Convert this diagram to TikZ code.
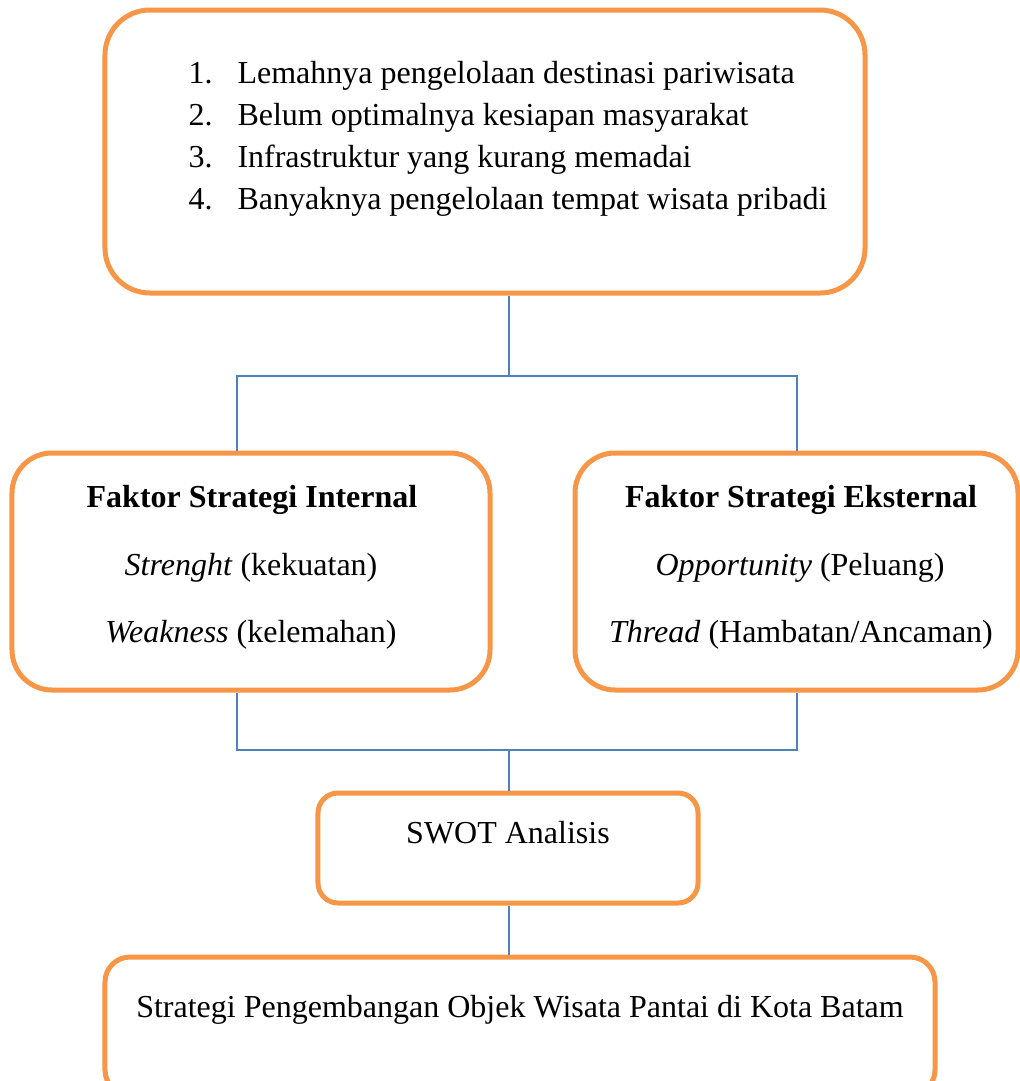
\documentclass[tikz,border=0pt]{standalone}
\usepackage{fontspec}
\setmainfont{Liberation Serif}
\usepackage{tikz}
\usetikzlibrary{positioning}
\definecolor{boxorange}{HTML}{F79646}
\definecolor{linkblue}{HTML}{4F81BD}
\tikzset{
  box/.style={draw=boxorange, line width=2pt, rectangle, inner sep=0pt},
  txt/.style={font=\fontsize{12.8pt}{16.8pt}\selectfont, inner sep=0pt},
  link/.style={draw=linkblue, line width=0.6pt}
}

\begin{document}
\begin{tikzpicture}[x=0.4pt, y=-0.4pt]
        % page frame
        \useasboundingbox (0,0) rectangle (1020,1081);
        \clip (0,0) rectangle (1020,1081);

        % 1. Boxes
        \node[box, rounded corners=18pt, minimum width=304pt, minimum height=113.2pt] (top) at (485,151.5) {};
        \node[box, rounded corners=16pt, minimum width=191.2pt, minimum height=94.8pt] (int) at (251,571.5) {};
        \node[box, rounded corners=16pt, minimum width=177.2pt, minimum height=94.8pt] (ext) at (796.5,571.5) {};
        \node[box, rounded corners=8pt, minimum width=152pt, minimum height=44pt] (swot) at (508,848) {};
        \node[box, rounded corners=10pt, minimum width=332pt, minimum height=55.2pt] (goal) at (520,1026) {};

        % 2. Problem list
        \foreach \i/\t in {1/Lemahnya pengelolaan destinasi pariwisata,
                           2/Belum optimalnya kesiapan masyarakat,
                           3/Infrastruktur yang kurang memadai,
                           4/Banyaknya pengelolaan tempat wisata pribadi}{
          \node[txt, anchor=base west] (num\i) at (188,41+42*\i) {\i.};
          \node[txt, anchor=base west] (item\i) at (237,41+42*\i) {\t};
        }

        % 3. Factor texts
        \node[txt, anchor=base, font=\fontsize{12.8pt}{16.8pt}\selectfont\bfseries] (intT) at (252,507) {Faktor Strategi Internal};
        \node[txt, anchor=base] (intS) at (251,575) {\textit{Strenght} (kekuatan)};
        \node[txt, anchor=base] (intW) at (251,642) {\textit{Weakness} (kelemahan)};
        \node[txt, anchor=base, font=\fontsize{12.8pt}{16.8pt}\selectfont\bfseries] (extT) at (801,507) {Faktor Strategi Eksternal};
        \node[txt, anchor=base] (extO) at (800,575) {\textit{Opportunity} (Peluang)};
        \node[txt, anchor=base] (extH) at (801,642) {\textit{Thread} (Hambatan/Ancaman)};

        % 4. Analysis and goal
        \node[txt, anchor=base] (swotT) at (508,843) {SWOT Analisis};
        \node[txt, anchor=base] (goalT) at (520,1017) {Strategi Pengembangan Objek Wisata Pantai di Kota Batam};

        % 5. Connectors
        \coordinate (splitT) at (509,376);
        \coordinate (tl) at (237,376);
        \coordinate (tr) at (797,376);
        \coordinate (joinB) at (509,750);
        \coordinate (bl) at (237,750);
        \coordinate (br) at (797,750);
        \draw[link] (top.south -| splitT) -- (splitT);
        \draw[link] (int.north -| tl) -- (tl) -- (tr) -- (ext.north -| tr);
        \draw[link] (int.south -| bl) -- (bl) -- (br) -- (ext.south -| br);
        \draw[link] (joinB) -- (swot.north -| joinB);
        \draw[link] (swot.south -| joinB) -- (goal.north -| joinB);
    \end{tikzpicture}
\end{document}
